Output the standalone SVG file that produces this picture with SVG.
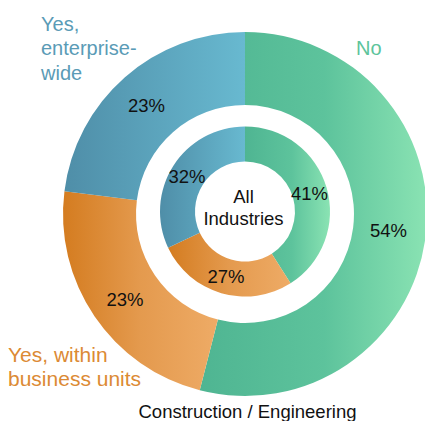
<svg xmlns="http://www.w3.org/2000/svg" width="425" height="421" viewBox="0 0 425 421">
<defs>
<linearGradient id="gGreen" x1="0" y1="0" x2="1" y2="0"><stop offset="0" stop-color="#4fb592"/><stop offset="0.55" stop-color="#5dc39c"/><stop offset="1" stop-color="#8ae3b3"/></linearGradient>
<linearGradient id="gBlue" x1="0" y1="0" x2="1" y2="0"><stop offset="0" stop-color="#4f8ea8"/><stop offset="1" stop-color="#68b9d0"/></linearGradient>
<linearGradient id="gOrange" x1="0" y1="0" x2="1" y2="0"><stop offset="0" stop-color="#d47c20"/><stop offset="0.5" stop-color="#e49a4e"/><stop offset="1" stop-color="#eeab66"/></linearGradient>
</defs>
<style>
.pct{font-family:"Liberation Sans",Arial,sans-serif;font-size:18.5px;fill:#111;text-anchor:middle}
.lab{font-family:"Liberation Sans",Arial,sans-serif;font-size:20px}
</style>
<rect width="425" height="421" fill="#fff"/>
<g id="outer-no">
<path d="M245,32 A182,182 0 1 1 199.74,390.29 L217.89,319.58 A109,109 0 1 0 245,105 Z" fill="url(#gGreen)"/>
<text class="pct" x="388.5" y="237">54%</text>
</g>
<g id="outer-yes-bu">
<path d="M199.74,390.29 A182,182 0 0 1 64.44,191.19 L136.86,200.34 A109,109 0 0 0 217.89,319.58 Z" fill="url(#gOrange)"/>
<text class="pct" x="125" y="306">23%</text>
</g>
<g id="outer-yes-ew">
<path d="M64.44,191.19 A182,182 0 0 1 245,32 L245,105 A109,109 0 0 0 136.86,200.34 Z" fill="url(#gBlue)"/>
<text class="pct" x="146.5" y="112">23%</text>
</g>
<g id="inner-no">
<path d="M245,126.5 A85,85 0 0 1 290.55,283.27 L271.79,253.72 A50,50 0 0 0 245,161.5 Z" fill="url(#gGreen)"/>
<text class="pct" x="309.5" y="200">41%</text>
</g>
<g id="inner-yes-bu">
<path d="M290.55,283.27 A85,85 0 0 1 168.09,247.69 L199.76,232.79 A50,50 0 0 0 271.79,253.72 Z" fill="url(#gOrange)"/>
<text class="pct" x="226" y="283">27%</text>
</g>
<g id="inner-yes-ew">
<path d="M168.09,247.69 A85,85 0 0 1 245,126.5 L245,161.5 A50,50 0 0 0 199.76,232.79 Z" fill="url(#gBlue)"/>
<text class="pct" x="187" y="183">32%</text>
</g>
<g id="center-label">
<text class="pct" x="243.5" y="203">All</text>
<text class="pct" x="243.5" y="225">Industries</text>
</g>
<g id="legend-yes-ew">
<text class="lab" fill="#5a9bb6" x="41" y="31">Yes,</text>
<text class="lab" fill="#5a9bb6" x="41" y="55">enterprise-</text>
<text class="lab" fill="#5a9bb6" x="41" y="80">wide</text>
</g>
<g id="legend-no">
<text class="lab" fill="#5dc49b" x="356" y="55">No</text>
</g>
<g id="legend-yes-bu">
<text class="lab" fill="#dc8a34" x="8" y="362" style="font-size:21px">Yes, within</text>
<text class="lab" fill="#dc8a34" x="8" y="386" style="font-size:21px">business units</text>
</g>
<g id="title">
<text class="pct" x="247.5" y="418">Construction / Engineering</text>
</g>
<g id="connectors"/>
</svg>
